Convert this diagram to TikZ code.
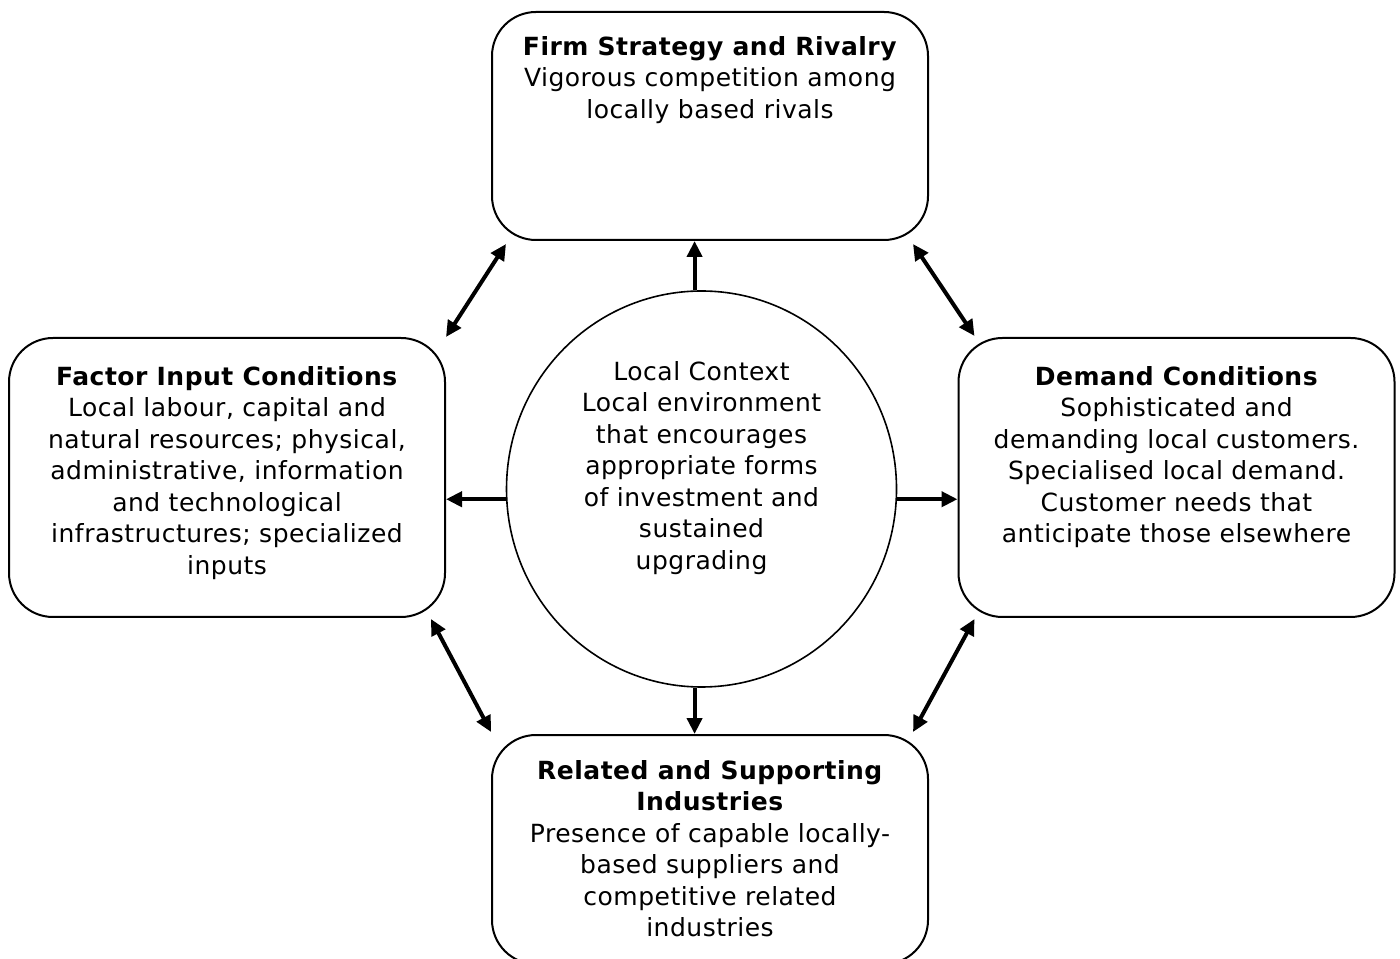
\documentclass[tikz,border=0pt]{standalone}
\usepackage{fontspec}
\setmainfont[LetterSpace=2]{DejaVu Sans}
\usetikzlibrary{arrows.meta,positioning,shapes.geometric}

\begin{document}
\begin{tikzpicture}[x=0.5pt,y=0.5pt,>={Triangle[length=8pt,width=7.5pt]},
    force/.style={draw,line width=1pt,rounded corners=22pt,minimum width=218pt,inner sep=0pt},
    forcetext/.style={align=center,inner sep=0pt,font=\fontsize{12.5}{15.75}\selectfont},
    link/.style={line width=2pt}]
    \useasboundingbox (0,0) rectangle (1400,958);

    \node[force, minimum height=114pt] (firm) at (710,832) {};
    \node[force, minimum height=139.5pt] (factor) at (227,480.5) {};
    \node[force, minimum height=139.5pt] (demand) at (1176.5,480.5) {};
    \node[force, minimum height=114.5pt] (related) at (710,108.5) {};
    \node[draw, ellipse, line width=0.8pt, inner sep=0pt,
          minimum width=195pt, minimum height=198pt] (context) at (701.5,469) {};

    \node[forcetext, below=12.5pt of firm.north] (firm text)
        {\textbf{Firm Strategy and Rivalry}\\ Vigorous competition among\\ locally based rivals};
    \node[forcetext, below=14.5pt of factor.north] (factor text)
        {\textbf{Factor Input Conditions}\\ Local labour, capital and\\ natural resources; physical,\\
         administrative, information\\ and technological\\ infrastructures; specialized\\ inputs};
    \node[forcetext, below=14.5pt of demand.north] (demand text)
        {\textbf{Demand Conditions}\\ Sophisticated and\\ demanding local customers.\\
         Specialised local demand.\\ Customer needs that\\ anticipate those elsewhere};
    \node[forcetext, below=13pt of related.north] (related text)
        {\textbf{Related and Supporting}\\ \textbf{Industries}\\ Presence of capable locally-\\
         based suppliers and\\ competitive related\\ industries};
    \node[forcetext, yshift=10.5pt] (context text) at (context.center)
        {Local Context\\ Local environment\\ that encourages\\ appropriate forms\\
         of investment and\\ sustained\\ upgrading};

    % context pushes out to the four conditions
    \draw[->,link] (context.92) -- (context.92 |- firm.south);
    \draw[->,link] (context.268) -- (context.268 |- related.north);
    \draw[->,link] (context.183) -- (context.183 -| factor.east);
    \draw[->,link] (context.357) -- (context.357 -| demand.west);

    % the diamond links
    \draw[<->,link] (factor.north east) -- ([shift={(7.5pt,-1.5pt)}]firm.south west);
    \draw[<->,link] ([shift={(-8pt,-1.5pt)}]firm.south east) -- ([shift={(8.5pt,0.5pt)}]demand.north west);
    \draw[<->,link] ([shift={(8.5pt,-0.5pt)}]demand.south west) -- ([shift={(-8pt,1pt)}]related.north east);
    \draw[<->,link] ([shift={(-7.5pt,-0.5pt)}]factor.south east) -- ([shift={(0pt,1pt)}]related.north west);
\end{tikzpicture}
\end{document}
